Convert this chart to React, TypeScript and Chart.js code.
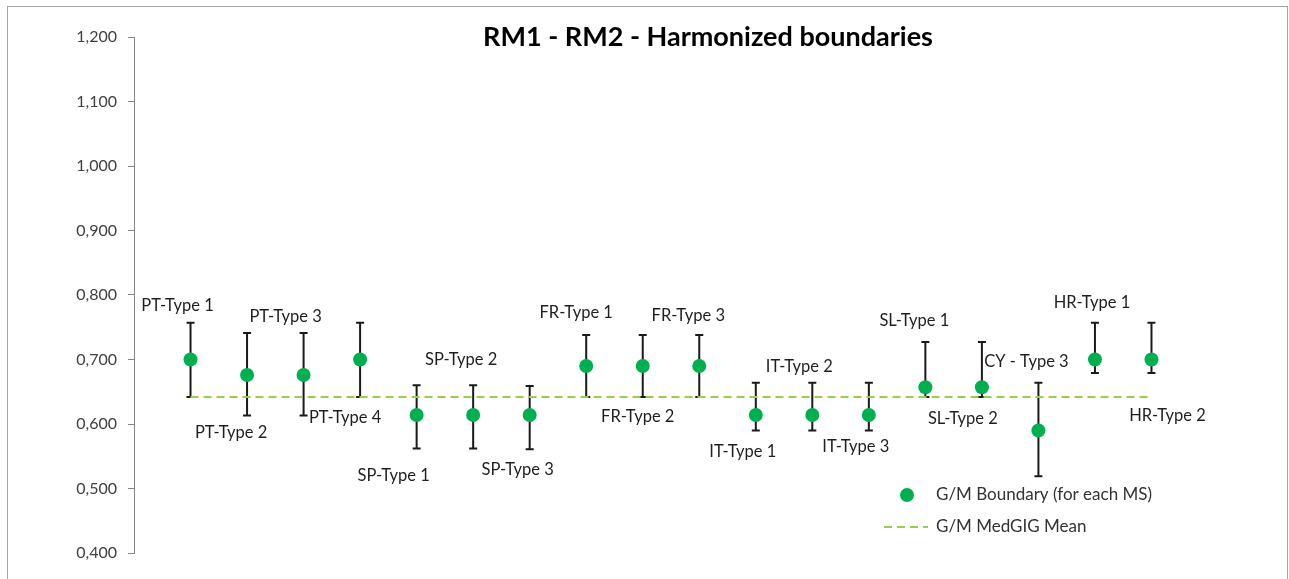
import React, { useEffect, useRef } from "react";
import { Chart, registerables } from "chart.js";

Chart.register(...registerables);

const TITLE = "RM1 - RM2 - Harmonized boundaries";

const categories = [
  "PT-Type 1", "PT-Type 2", "PT-Type 3", "PT-Type 4",
  "SP-Type 1", "SP-Type 2", "SP-Type 3",
  "FR-Type 1", "FR-Type 2", "FR-Type 3",
  "IT-Type 1", "IT-Type 2", "IT-Type 3",
  "SL-Type 1", "SL-Type 2", "CY - Type 3",
  "HR-Type 1", "HR-Type 2",
];

const boundary = [
  0.700, 0.676, 0.676, 0.700,
  0.614, 0.614, 0.614,
  0.690, 0.690, 0.690,
  0.614, 0.614, 0.614,
  0.657, 0.657, 0.590,
  0.700, 0.700,
];

const upper = [
  0.757, 0.741, 0.741, 0.757,
  0.660, 0.660, 0.659,
  0.738, 0.738, 0.738,
  0.664, 0.664, 0.664,
  0.727, 0.727, 0.664,
  0.757, 0.757,
];

const lower = [
  0.642, 0.613, 0.613, 0.642,
  0.562, 0.562, 0.561,
  0.642, 0.642, 0.642,
  0.590, 0.590, 0.590,
  0.642, 0.642, 0.519,
  0.679, 0.679,
];

const medgigMean = 0.642;

const yMin = 0.4;
const yMax = 1.2;
const yStep = 0.1;

const legendLabels = ["G/M Boundary (for each MS)", "G/M MedGIG Mean"];

// label placement offsets (pixels, relative to each point)
const labelOffsets: [number, number][] = [
  [-13, -54], [-16, 58], [-18, -58], [-15, 58],
  [-23, 61], [-12, -55], [-12, 55],
  [-10, -53], [-5, 51], [-11, -50],
  [-13, 37], [-13, -48], [-13, 32],
  [-11, -67], [-19, 31], [-12, -69],
  [-3, -57], [16, 56],
];

const FONT = "Lato, 'Open Sans', sans-serif";
const POINT_COLOR = "#00B050";
const MEAN_COLOR = "#92D050";
const TEXT_COLOR = "#1f1f1f";

const overlayPlugin = {
  id: "overlay",
  beforeDatasetsDraw(chart: any) {
    const ctx = chart.ctx;
    const xs = chart.scales.x;
    const ys = chart.scales.y;
    ctx.save();
    ctx.strokeStyle = "#1a1a1a";
    ctx.lineWidth = 2;
    categories.forEach((_, i) => {
      const x = xs.getPixelForValue(i + 1);
      const yt = ys.getPixelForValue(upper[i]);
      const yb = ys.getPixelForValue(lower[i]);
      ctx.beginPath();
      ctx.moveTo(x, yt);
      ctx.lineTo(x, yb);
      ctx.moveTo(x - 4, yt);
      ctx.lineTo(x + 4, yt);
      ctx.moveTo(x - 4, yb);
      ctx.lineTo(x + 4, yb);
      ctx.stroke();
    });
    ctx.restore();
  },
  afterDraw(chart: any) {
    const ctx = chart.ctx;
    const xs = chart.scales.x;
    const ys = chart.scales.y;
    ctx.save();
    // outer frame
    ctx.strokeStyle = "#a6a6a6";
    ctx.lineWidth = 1;
    ctx.strokeRect(7.5, 6.5, 1280, 620);

    // title
    ctx.fillStyle = "#000";
    ctx.font = `bold 27px ${FONT}`;
    ctx.textAlign = "center";
    ctx.textBaseline = "middle";
    ctx.fillText(TITLE, 708, 37);

    // data labels
    ctx.font = `16.5px ${FONT}`;
    ctx.fillStyle = TEXT_COLOR;
    categories.forEach((name, i) => {
      const x = xs.getPixelForValue(i + 1);
      const y = ys.getPixelForValue(boundary[i]);
      const [dx, dy] = labelOffsets[i];
      ctx.fillText(name, x + dx, y + dy);
    });

    // legend
    const lx = 907;
    const ly1 = 495;
    const ly2 = 527;
    ctx.fillStyle = POINT_COLOR;
    ctx.beginPath();
    ctx.arc(lx, ly1, 7, 0, Math.PI * 2);
    ctx.fill();
    ctx.strokeStyle = MEAN_COLOR;
    ctx.lineWidth = 2;
    ctx.setLineDash([8, 5]);
    ctx.beginPath();
    ctx.moveTo(884, ly2);
    ctx.lineTo(928, ly2);
    ctx.stroke();
    ctx.setLineDash([]);
    ctx.fillStyle = "#333333";
    ctx.textAlign = "left";
    ctx.font = `17px ${FONT}`;
    ctx.fillText(legendLabels[0], 936, ly1);
    ctx.fillText(legendLabels[1], 936, ly2);
    ctx.restore();
  },
};

export default function App() {
  const canvasRef = useRef<HTMLCanvasElement | null>(null);

  useEffect(() => {
    document.body.style.margin = "0";
    const canvas = canvasRef.current;
    if (!canvas) return;
    const chart = new Chart(canvas, {
      type: "scatter",
      data: {
        datasets: [
          {
            label: legendLabels[0],
            data: boundary.map((v, i) => ({ x: i + 1, y: v })),
            backgroundColor: POINT_COLOR,
            borderColor: POINT_COLOR,
            borderWidth: 0,
            pointRadius: 7,
          },
          {
            type: "line",
            label: legendLabels[1],
            data: categories.map((_, i) => ({ x: i + 1, y: medgigMean })),
            borderColor: MEAN_COLOR,
            borderWidth: 2,
            borderDash: [8, 5],
            pointRadius: 0,
            fill: false,
          } as any,
        ],
      },
      options: {
        animation: false,
        responsive: false,
        devicePixelRatio: 1,
        layout: { padding: { top: 37, bottom: 26, left: 0, right: 81 } },
        plugins: {
          legend: { display: false },
          title: { display: false },
          tooltip: { enabled: false },
        },
        scales: {
          x: { type: "linear", min: 0, max: 19, display: false },
          y: {
            min: yMin,
            max: yMax,
            ticks: {
              stepSize: yStep,
              color: "#404040",
              padding: 11,
              font: { family: FONT, size: 16 },
              callback: (v: any) => Number(v).toFixed(3).replace(".", ","),
            },
            grid: {
              drawOnChartArea: false,
              drawTicks: true,
              tickLength: 6,
              color: "#868686",
            },
            border: { display: true, color: "#868686", width: 1 },
            afterFit: (s: any) => {
              s.width = 134;
            },
          },
        },
      },
      plugins: [overlayPlugin],
    });
    return () => chart.destroy();
  }, []);

  return (
    <div style={{ width: 1289, height: 579, background: "#fff" }}>
      <canvas ref={canvasRef} width={1289} height={579} style={{ display: "block" }} />
    </div>
  );
}
